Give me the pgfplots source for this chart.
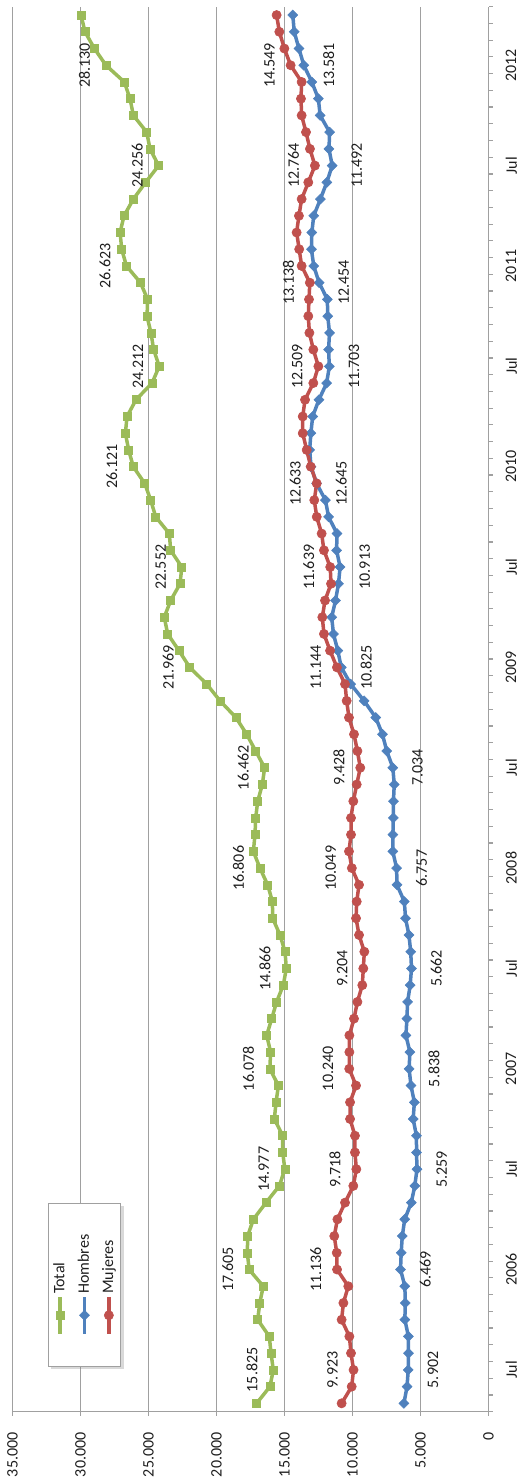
\documentclass[border=0pt]{standalone}
\usepackage{fontspec}
\setmainfont{Carlito}
\usepackage{pgfplots}
\pgfplotsset{compat=1.18}
\usepackage{pgfplotstable}
\usetikzlibrary{shadows}
\definecolor{cT}{RGB}{155,187,89}
\definecolor{cH}{RGB}{79,129,189}
\definecolor{cM}{RGB}{192,80,77}
\definecolor{gridc}{RGB}{160,160,160}
\definecolor{txt}{RGB}{30,30,30}
\makeatletter
\tikzset{nopreaction/.code={\let\tikz@preactions\pgfutil@empty}}
\makeatother

\pgfplotstableread{
k T H M
0 17050 6220 10800
1 16070 5990 10060
2 15825 5902 9923
3 15990 5885 10110
4 16120 5890 10230
5 16970 6150 10800
6 16820 6120 10670
7 16560 6150 10310
8 17605 6469 11136
9 17730 6420 11160
10 17710 6340 11340
11 17290 6160 11110
12 16360 5680 10550
13 15380 5420 9940
14 14977 5259 9718
15 15130 5290 9820
16 15130 5300 9820
17 15750 5540 10180
18 15620 5450 10180
19 15450 5700 9740
20 16078 5838 10240
21 16020 5780 10230
22 16310 6070 10230
23 15940 6000 9890
24 15580 5950 9640
25 15090 5760 9280
26 14866 5662 9204
27 14960 5720 9130
28 15330 5850 9520
29 15870 6100 9740
30 15890 6190 9690
31 16240 6730 9520
32 16806 6757 10049
33 17290 7040 10260
34 17170 7030 10110
35 17120 7000 10110
36 16970 6990 9940
37 16630 6930 9690
38 16462 7034 9428
39 17120 7480 9640
40 17780 7800 9890
41 18570 8290 10260
42 19740 9150 10430
43 20720 10130 10550
44 21969 10825 11144
45 22760 11080 11650
46 23590 11400 12100
47 23840 11530 12220
48 23370 11250 12020
49 22680 11030 11580
50 22552 10913 11639
51 23370 11170 12100
52 23470 11140 12270
53 24470 11760 12630
54 24840 11990 12810
55 25278 12645 12633
56 26121 13050 13070
57 26460 13150 13370
58 26700 13060 13660
59 26580 12930 13660
60 25920 12470 13490
61 24740 11900 12880
62 24212 11703 12509
63 24620 11760 12880
64 24820 11690 13170
65 25110 11820 13250
66 25060 11850 13200
67 25592 12454 13138
68 26623 12850 13740
69 26970 13020 13920
70 27090 12990 14110
71 26800 12850 13940
72 26110 12360 13740
73 25210 11890 13250
74 24256 11492 12764
75 24890 11730 13130
76 25130 11680 13420
77 26110 12380 13740
78 26360 12510 13790
79 26780 12990 13740
80 28130 13581 14549
81 28980 13940 15010
82 29670 14285 15380
83 29960 14390 15580
}\datatab

\begin{document}
\fontsize{8bp}{9.6bp}\selectfont
\begin{tikzpicture}
\useasboundingbox (0,0) rectangle (259bp,739.5bp);
\begin{scope}[shift={(259bp,0)}, rotate=90]
\pgflowlevelsynccm
\begin{axis}[
  at={(33.65bp,14.75bp)}, anchor=south west,
  scale only axis, width=702.5bp, height=238bp,
  xmin=-0.5, xmax=83.5, ymin=0, ymax=35000,
  axis x line*=bottom, axis y line*=left,
  axis line style={gridc, line width=0.6bp},
  ytick={0,5000,...,35000},
  scaled y ticks=false,
  /pgf/number format/1000 sep={.},
  /pgf/number format/assume math mode=true,
  yticklabel style={anchor=east, inner sep=0pt, text=txt},
  yticklabel shift=8.2bp,
  ymajorgrids,
  major grid style={gridc, line width=0.6bp},
  tick style={gridc, line width=0.6bp},
  tick align=outside,
  major tick length=2bp,
  xtick={-0.5,0.5,...,83.5},
  xticklabels={},
  extra x ticks={2,8,...,80},
  extra x tick labels={Jul,2006,Jul,2007,Jul,2008,Jul,2009,Jul,2010,Jul,2011,Jul,2012},
  extra x tick style={major tick length=0pt},
  xticklabel style={anchor=north, inner sep=0pt, text=txt},
  xticklabel shift=8.4bp,
  legend style={at={(0.0904,0.849)}, anchor=center,
    draw=gridc, line width=0.6bp, fill=white,
    inner xsep=15.25bp, inner ysep=0.5bp, row sep=1.5bp, column sep=0pt,
    text=txt, nodes={inner xsep=0.5bp},
    drop shadow={shadow xshift=-1.5bp, shadow yshift=-1.5bp, opacity=0.3}},
  legend cell align=left,
  legend image code/.code={\draw[nopreaction,mark repeat=2,mark phase=2,#1] plot coordinates {(0cm,0cm)(0.33cm,0cm)(0.66cm,0cm)};},
]
\addplot[cT, line width=1.75bp, mark=square*, mark size=2bp, mark options={solid, line width=0.3bp}] table[x=k,y=T]{\datatab};
\addplot[cH, line width=1.75bp, mark=square*, mark size=1.75bp, mark options={solid, rotate=45, line width=0.3bp}] table[x=k,y=H]{\datatab};
\addplot[cM, line width=1.75bp, mark=*, mark size=2.3bp, mark options={solid, line width=0.3bp}] table[x=k,y=M]{\datatab};

\addplot[draw=none, forget plot, nodes near coords, point meta=explicit symbolic,
  nodes near coords style={anchor=south, inner sep=7.75bp, text=txt}]
  coordinates {(2,15825) [15.825] (8,17605) [17.605] (14,14977) [14.977] (20,16078) [16.078]
  (26,14866) [14.866] (32,16806) [16.806] (38,16462) [16.462] (44,21969) [21.969]
  (50,22552) [22.552] (56,26121) [26.121] (62,24212) [24.212] (68,26623) [26.623]
  (74,24256) [24.256] (80,28130) [28.130]};
\addplot[draw=none, forget plot, nodes near coords, point meta=explicit symbolic,
  nodes near coords style={anchor=south, inner sep=7.75bp, text=txt}]
  coordinates {(2,9923) [9.923] (8,11136) [11.136] (14,9718) [9.718] (20,10240) [10.240]
  (26,9204) [9.204] (32,10049) [10.049] (38,9428) [9.428] (44,11144) [11.144]
  (50,11639) [11.639] (55,12633) [12.633] (62,12509) [12.509] (67,13138) [13.138]
  (74,12764) [12.764] (80,14549) [14.549]};
\addplot[draw=none, forget plot, nodes near coords, point meta=explicit symbolic,
  nodes near coords style={anchor=north, inner sep=9.5bp, text=txt}]
  coordinates {(2,5902) [5.902] (8,6469) [6.469] (14,5259) [5.259] (20,5838) [5.838]
  (26,5662) [5.662] (32,6757) [6.757] (38,7034) [7.034] (44,10825) [10.825]
  (50,10913) [10.913] (55,12645) [12.645] (62,11703) [11.703] (67,12454) [12.454]
  (74,11492) [11.492] (80,13581) [13.581]};
\legend{Total,Hombres,Mujeres}
\end{axis}
\end{scope}
\end{tikzpicture}
\end{document}
